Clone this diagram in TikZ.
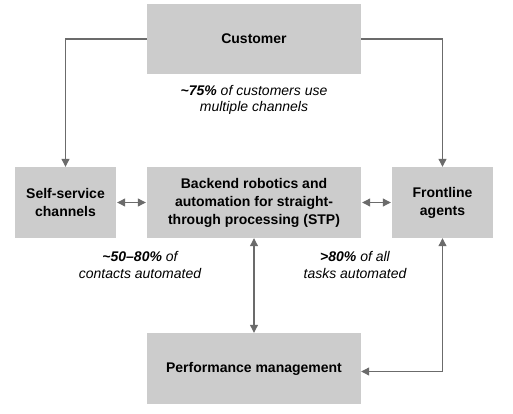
\documentclass[tikz,border=0pt]{standalone}
\usepackage{fontspec}
\setmainfont{Liberation Sans}
\usetikzlibrary{arrows.meta}
\colorlet{boxgray}{black!20}
\colorlet{linegray}{black!58}
\tikzset{
  block/.style = {
    fill=boxgray, minimum height=71pt, inner sep=0pt, align=center,
    font=\bfseries\fontsize{14}{18}\selectfont
  },
  wideblock/.style = {block, minimum width=214pt},
  narrowblock/.style = {block, minimum width=101pt},
  flow/.style = {linegray, line width=1.1pt},
  note/.style = {align=center, font=\itshape\fontsize{14}{16.5}\selectfont}
}
\tikzset{>={Triangle[length=8pt,width=8pt]}}

\begin{document}
\begin{tikzpicture}[x=1pt,y=1pt]
  \useasboundingbox (0,0) rectangle (513,413);
  % boxes
  \node[wideblock, minimum height=70pt] (customer) at (254,374) {Customer};
  \node[narrowblock] (self) at (65.5,210.5) {Self-service\\channels};
  \node[wideblock] (backend) at (254,210.5) {Backend robotics and\\automation for straight-\\through processing (STP)};
  \node[narrowblock] (front) at (442.5,210.5) {Frontline\\agents};
  \node[wideblock] (perf) at (254,44.5) {Performance management};
  % connectors
  \draw[flow,->] (customer.west) -| (self.north);
  \draw[flow,->] (customer.east) -| (front.north);
  \draw[flow,<->,shorten <=1pt,shorten >=1pt] (self) -- (backend);
  \draw[flow,<->,shorten <=1pt,shorten >=1pt] (backend) -- (front);
  \draw[flow,<->] (backend) -- (perf);
  \draw[flow,<->] (front.south) |- ([yshift=-3pt]perf.east);
  % notes
  \node[note] (multi) at (254,313) {\textbf{\textasciitilde75\%} of customers use\\multiple channels};
  \node[note] (contacts) at (140,148) {\textbf{\textasciitilde50–80\%} of\\contacts automated};
  \node[note] (tasks) at (355,148) {\textbf{>80\%} of all\\tasks automated};
\end{tikzpicture}
\end{document}
